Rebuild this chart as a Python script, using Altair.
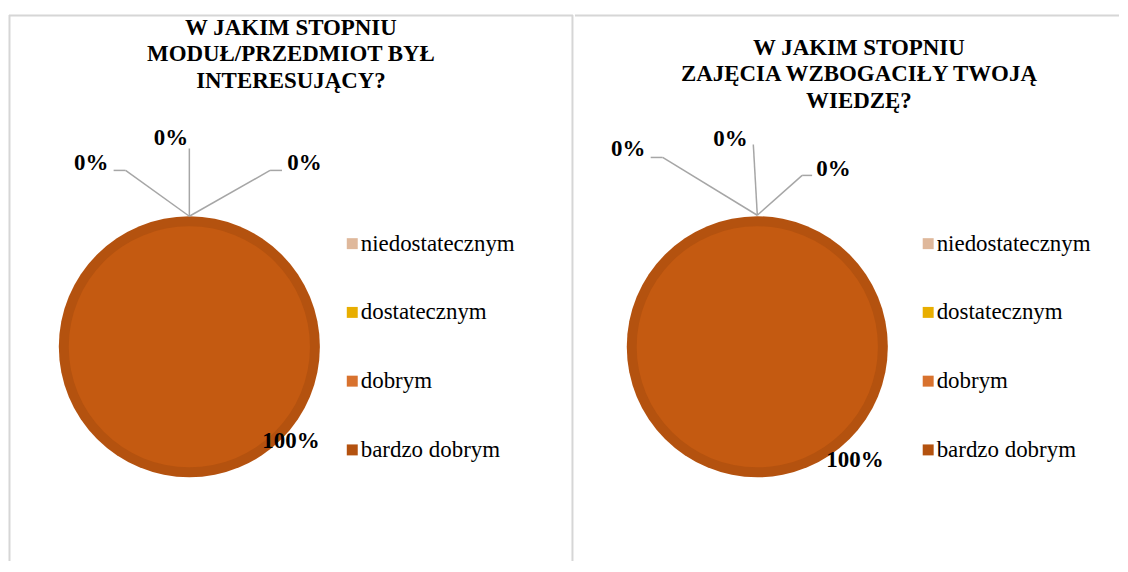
import altair as alt
import pandas as pd

# ---------------- data ----------------
categories = ["niedostatecznym", "dostatecznym", "dobrym", "bardzo dobrym"]
values_q1 = [0, 0, 0, 100]
values_q2 = [0, 0, 0, 100]
titles = [
    "W JAKIM STOPNIU\nMODUŁ/PRZEDMIOT BYŁ\nINTERESUJĄCY?",
    "W JAKIM STOPNIU\nZAJĘCIA WZBOGACIŁY TWOJĄ\nWIEDZĘ?",
]

# ---------------- styles ----------------
colors = ["#DFB89B", "#E8AE00", "#D8722E", "#B4520F"]
inner_fill = "#C45A11"
leader_color = "#A6A6A6"
border_color = "#D6D6D6"
FONT = "Liberation Serif, Times New Roman, serif"

# ---------------- layout (panel pixel coordinates) ----------------
layouts = [
    dict(
        width=566, height=548, cx=181, cy=333, r_out=131, r_in=121,
        title_x=283, title_y=2,
        legend_x=333, legend_y=218,
        label_pos=[(82.5, 149), (162.5, 123), (296.5, 149), (283, 428)],
        leaders=[
            [(181, 202), (117, 156), (105, 156)],
            [(181, 202), (181, 134)],
            [(181, 202), (262, 156), (274, 156)],
            [],
        ],
        borders=[(0, 0.5, 566, 0.5), (0.5, 0, 0.5, 548), (565.5, 0, 565.5, 548)],
    ),
    dict(
        width=546, height=548, cx=183, cy=333, r_out=131, r_in=121,
        title_x=285, title_y=22,
        legend_x=343, legend_y=218,
        label_pos=[(53.5, 135), (156, 124), (259.5, 155), (281, 447)],
        leaders=[
            [(183, 201), (88, 143), (76, 143)],
            [(183, 201), (179, 130)],
            [(183, 201), (228, 161), (238, 161)],
            [],
        ],
        borders=[(0, 0.5, 546, 0.5)],
    ),
]


def make_panel(values, title, L):
    total = sum(values)
    df = pd.DataFrame({"cat": categories, "value": values, "order": list(range(len(categories)))})
    base = alt.Chart(df)

    theta = alt.Theta("value:Q", stack=True)
    ring = base.mark_arc(radius=L["r_out"]).encode(
        theta=theta,
        color=alt.Color(
            "cat:N",
            sort=categories,
            scale=alt.Scale(domain=categories, range=colors),
            legend=alt.Legend(
                orient="none", legendX=L["legend_x"], legendY=L["legend_y"],
                title=None, symbolType="square", symbolSize=121,
                symbolStrokeWidth=0, labelFont=FONT, labelFontSize=23,
                labelColor="#000000", rowPadding=45,
                labelOffset={"expr": "-3"},
                padding=0, labelLimit=0,
            ),
        ),
        order=alt.Order("order:Q"),
        x=alt.value(L["cx"]), y=alt.value(L["cy"]),
    )
    inner = base.transform_filter("datum.value > 0").mark_arc(
        radius=L["r_in"], color=inner_fill
    ).encode(
        theta=theta, order=alt.Order("order:Q"),
        x=alt.value(L["cx"]), y=alt.value(L["cy"]),
    )

    segs = []
    for path in L["leaders"]:
        for (a, b) in zip(path[:-1], path[1:]):
            segs.append({"x": a[0], "y": a[1], "x2": b[0], "y2": b[1]})
    leaders = alt.Chart(pd.DataFrame(segs)).mark_rule(
        color=leader_color, strokeWidth=1.5
    ).encode(
        x=alt.X("x:Q", scale=None, axis=None),
        y=alt.Y("y:Q", scale=None, axis=None),
        x2="x2:Q", y2="y2:Q",
    )

    lab_df = pd.DataFrame({
        "x": [p[0] for p in L["label_pos"]],
        "y": [p[1] for p in L["label_pos"]],
        "text": [f"{round(v / total * 100)}%" for v in values],
    })
    labels = alt.Chart(lab_df).mark_text(
        font=FONT, fontSize=23, fontWeight="bold", color="#000000",
        align="center", baseline="middle",
    ).encode(
        x=alt.X("x:Q", scale=None, axis=None),
        y=alt.Y("y:Q", scale=None, axis=None),
        text="text:N",
    )

    title_mark = alt.Chart(pd.DataFrame({"t": [title]})).mark_text(
        font=FONT, fontSize=23, fontWeight="bold", color="#000000",
        align="center", baseline="top", lineBreak="\n", lineHeight=26.5,
    ).encode(x=alt.value(L["title_x"]), y=alt.value(L["title_y"]), text="t:N")

    b_df = pd.DataFrame(L["borders"], columns=["x", "y", "x2", "y2"])
    borders = alt.Chart(b_df).mark_rule(color=border_color, strokeWidth=2).encode(
        x=alt.X("x:Q", scale=None, axis=None),
        y=alt.Y("y:Q", scale=None, axis=None),
        x2="x2:Q", y2="y2:Q",
    )

    return alt.layer(borders, ring, inner, leaders, labels, title_mark).properties(
        width=L["width"], height=L["height"]
    )


p1 = make_panel(values_q1, titles[0], layouts[0])
p2 = make_panel(values_q2, titles[1], layouts[1])

chart = (
    alt.hconcat(p1, p2, spacing=0)
    .resolve_scale(color="independent", theta="independent")
    .resolve_legend(color="independent")
    .properties(padding={"left": 0, "top": 5, "right": 0, "bottom": 0})
    .configure_view(stroke=None)
    .configure_legend(labelFont=FONT)
)

chart.save("out.html", embed_options={"renderer": "svg", "actions": False})
